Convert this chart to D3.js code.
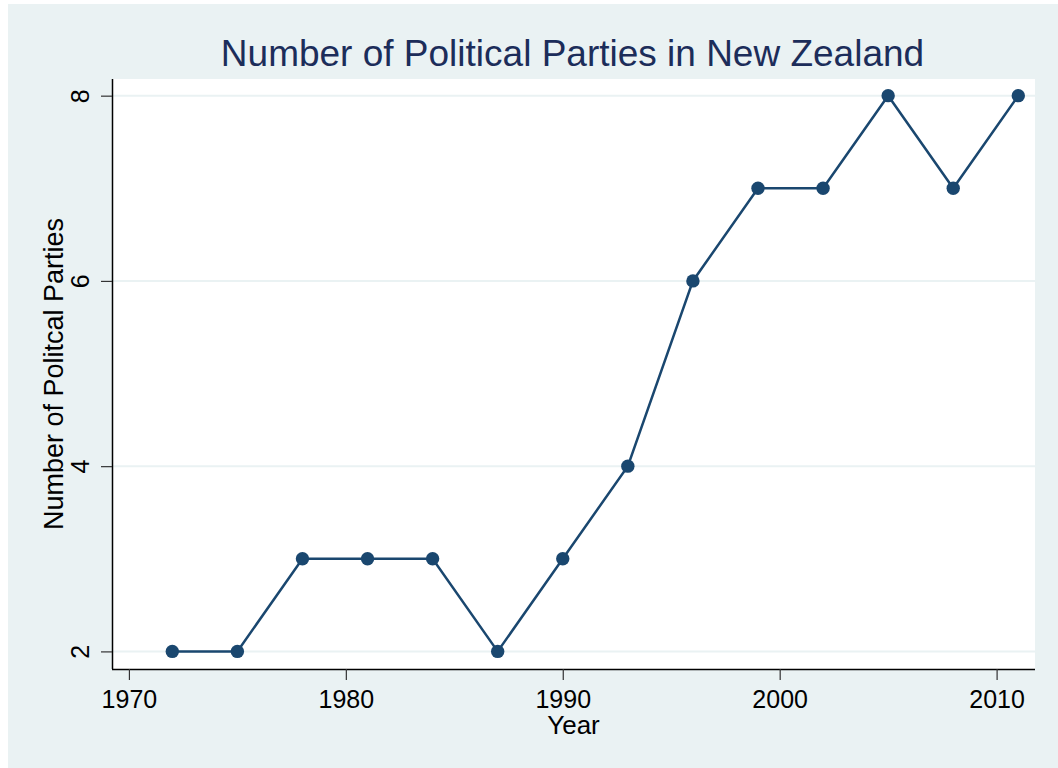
<!DOCTYPE html>
<html>
  <head>
    <title>Political Parties</title>
    <style>
      body { margin: 0; background: #ffffff; }
      svg { display: block; font-family: "Liberation Sans", Arial, sans-serif; }
    </style>
  </head>
  <body>
    <svg id="canvas" width="1058" height="768"></svg>
    <script src="https://d3js.org/d3.v7.min.js"></script>
    <script>
      // Data
      const years = [1972, 1975, 1978, 1981, 1984, 1987, 1990, 1993, 1996, 1999, 2002, 2005, 2008, 2011];
      const parties = [2, 2, 3, 3, 3, 2, 3, 4, 6, 7, 7, 8, 7, 8];
      const xTicks = [1970, 1980, 1990, 2000, 2010];
      const yTicks = [2, 4, 6, 8];

      const svg = d3.select("#canvas");
      const plot = { left: 112, top: 79, right: 1035, bottom: 669 };
      const navy = "#1a476f";

      // outer background
      svg.append("rect")
        .attr("x", 8).attr("y", 4)
        .attr("width", 1058 - 8).attr("height", 768 - 4)
        .attr("fill", "#eaf2f3");

      // plot region
      svg.append("rect")
        .attr("x", plot.left).attr("y", plot.top)
        .attr("width", plot.right - plot.left).attr("height", plot.bottom - plot.top)
        .attr("fill", "#ffffff");

      const x = d3.scaleLinear().domain([1969.22, 2011.77]).range([plot.left, plot.right]);
      const y = d3.scaleLinear().domain([1.81, 8.18]).range([plot.bottom, plot.top]);

      // grid lines
      svg.append("g").selectAll("line").data(yTicks).join("line")
        .attr("x1", plot.left).attr("x2", plot.right)
        .attr("y1", d => y(d)).attr("y2", d => y(d))
        .attr("stroke", "#eaf2f3").attr("stroke-width", 2);

      // y axis
      const yAxis = svg.append("g")
        .attr("transform", "translate(" + plot.left + ",0)")
        .call(d3.axisLeft(y).tickValues(yTicks).tickSize(11).tickPadding(8).tickFormat(d3.format("d")));
      yAxis.select(".domain").attr("d", "M0.5," + plot.top + "V" + plot.bottom).attr("stroke", "#000").attr("stroke-width", 1.5);
      yAxis.selectAll(".tick line").attr("stroke", "#333").attr("stroke-width", 1.2);
      yAxis.selectAll(".tick text")
        .attr("font-size", 25).attr("fill", "#000")
        .attr("text-anchor", "middle")
        .attr("x", 0).attr("dy", 0)
        .attr("transform", "translate(-32,0) rotate(-90)")
        .attr("dominant-baseline", "central");

      // x axis
      const xAxis = svg.append("g")
        .attr("transform", "translate(0," + plot.bottom + ")")
        .call(d3.axisBottom(x).tickValues(xTicks).tickSize(11).tickPadding(8).tickFormat(d3.format("d")));
      xAxis.select(".domain").attr("d", "M" + plot.left + ",0.5H" + plot.right).attr("stroke", "#000").attr("stroke-width", 1.5);
      xAxis.selectAll(".tick line").attr("stroke", "#333").attr("stroke-width", 1.2);
      xAxis.selectAll(".tick text").attr("font-size", 25).attr("fill", "#000").attr("dy", "0.78em");

      // line and markers
      const pts = years.map((yr, i) => [yr, parties[i]]);
      svg.append("path")
        .datum(pts)
        .attr("d", d3.line().x(d => x(d[0])).y(d => y(d[1])))
        .attr("fill", "none").attr("stroke", navy).attr("stroke-width", 2.5);
      svg.append("g").selectAll("circle").data(pts).join("circle")
        .attr("cx", d => x(d[0])).attr("cy", d => y(d[1]))
        .attr("r", 6.7).attr("fill", navy);

      // titles
      svg.append("text")
        .attr("x", (plot.left + plot.right) / 2 - 1).attr("y", 66)
        .attr("text-anchor", "middle").attr("font-size", 37).attr("fill", "#1c2d5a")
        .text("Number of Political Parties in New Zealand");
      svg.append("text")
        .attr("x", (plot.left + plot.right) / 2).attr("y", 734)
        .attr("text-anchor", "middle").attr("font-size", 26).attr("fill", "#000")
        .text("Year");
      svg.append("text")
        .attr("transform", "translate(63," + (plot.top + plot.bottom) / 2 + ") rotate(-90)")
        .attr("text-anchor", "middle").attr("font-size", 27).attr("fill", "#000")
        .text("Number of Politcal Parties");
    </script>
  </body>
</html>
